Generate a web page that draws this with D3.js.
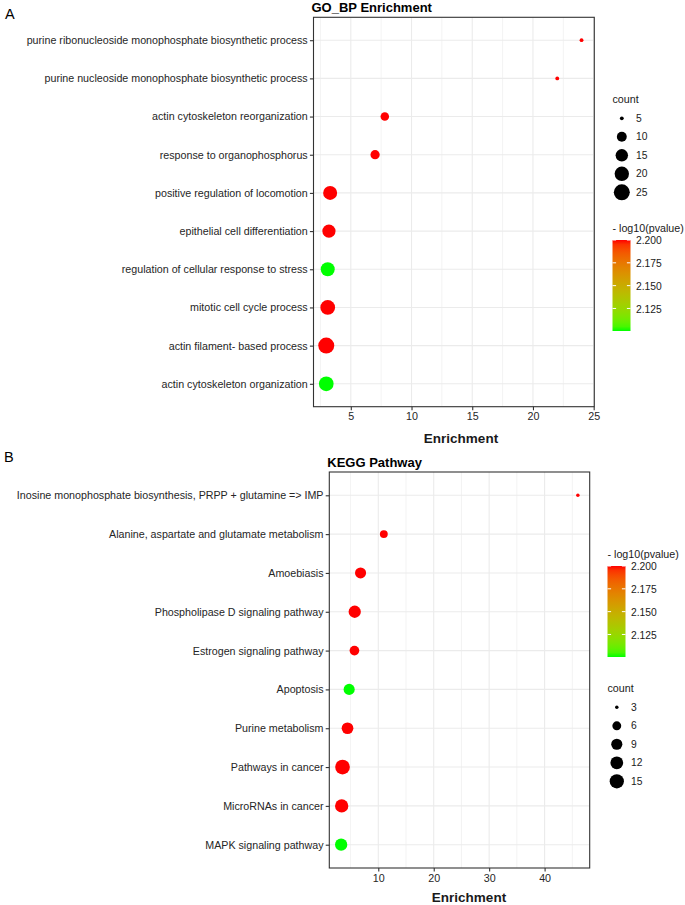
<!DOCTYPE html>
<html>
<head>
<meta charset="utf-8">
<script src="https://cdn.jsdelivr.net/npm/d3@7"></script>
<style>
  html, body { margin: 0; padding: 0; background: #fff; }
  svg { display: block; font-family: "Liberation Sans", Arial, Helvetica, sans-serif; }
</style>
</head>
<body>
<svg id="chart" width="685" height="905"></svg>
<script>
// ---------------- DATA ----------------
const goTerms = [
  "purine ribonucleoside monophosphate biosynthetic process",
  "purine nucleoside monophosphate biosynthetic process",
  "actin cytoskeleton reorganization",
  "response to organophosphorus",
  "positive regulation of locomotion",
  "epithelial cell differentiation",
  "regulation of cellular response to stress",
  "mitotic cell cycle process",
  "actin filament- based process",
  "actin cytoskeleton organization"
];
const goEnrichment = [24.0, 22.0, 7.8, 7.0, 3.3, 3.2, 3.1, 3.1, 2.98, 2.98];
const goCount = [5, 5, 8, 9, 19, 17, 19, 21, 25, 21];
const goLogP = [2.2, 2.2, 2.2, 2.2, 2.2, 2.2, 2.1003, 2.2, 2.2, 2.1003];
const goCountBreaks = [5, 10, 15, 20, 25];
const goXTicks = [5, 10, 15, 20, 25];

const keggTerms = [
  "Inosine monophosphate biosynthesis, PRPP + glutamine => IMP",
  "Alanine, aspartate and glutamate metabolism",
  "Amoebiasis",
  "Phospholipase D signaling pathway",
  "Estrogen signaling pathway",
  "Apoptosis",
  "Purine metabolism",
  "Pathways in cancer",
  "MicroRNAs in cancer",
  "MAPK signaling pathway"
];
const keggEnrichment = [46.0, 11.0, 6.8, 5.75, 5.7, 4.75, 4.45, 3.55, 3.4, 3.3];
const keggCount = [3, 5, 9, 11, 7, 9, 10, 16, 13, 11];
const keggLogP = [2.2, 2.2, 2.2, 2.2, 2.2, 2.1003, 2.2, 2.2, 2.2, 2.1003];
const keggCountBreaks = [3, 6, 9, 12, 15];
const keggXTicks = [10, 20, 30, 40];

const colorTicks = [2.125, 2.150, 2.175, 2.200];

// ---------------- DRAW ----------------
const svg = d3.select("#chart");
const FONT_AXIS = 10.7;
const TXT = "#262626";
const LOW = "#00ff00", HIGH = "#ff0000";
const interp = d3.interpolateLab(LOW, HIGH);

function drawPanel(o) {
  const g = svg.append("g");
  const [xmin, xmax] = d3.extent(o.enrich);
  const pad = 0.05 * (xmax - xmin);
  const x = d3.scaleLinear().domain([xmin - pad, xmax + pad]).range([o.left, o.right]);
  const y = d3.scalePoint().domain(o.terms).range([o.top, o.bottom]).padding(0.6);
  const [cmin, cmax] = d3.extent(o.count);
  const tScale = d3.scaleLinear().domain([cmin, cmax]).range([0, 1]);
  const diam = c => o.dMin + o.dSpan * Math.sqrt(Math.max(0, tScale(c)));
  const col = d3.scaleLinear().domain([o.cLo, o.cHi]).range([0, 1]).clamp(true);
  const color = v => interp(col(v));

  g.append("rect").attr("x", o.left).attr("y", o.top)
    .attr("width", o.right - o.left).attr("height", o.bottom - o.top)
    .attr("fill", "#fff");

  // minor grid
  const step = o.xTicks[1] - o.xTicks[0];
  const minors = d3.range(Math.floor(x.domain()[0] / step) * step - step / 2, x.domain()[1], step)
    .filter(v => v > x.domain()[0] && v < x.domain()[1]);
  g.append("g").selectAll("line").data(minors).join("line")
    .attr("x1", d => x(d)).attr("x2", d => x(d))
    .attr("y1", o.top).attr("y2", o.bottom)
    .attr("stroke", "#ebebeb").attr("stroke-width", 0.6);
  g.append("g").selectAll("line").data(o.xTicks).join("line")
    .attr("x1", d => x(d)).attr("x2", d => x(d))
    .attr("y1", o.top).attr("y2", o.bottom)
    .attr("stroke", "#ebebeb").attr("stroke-width", 1.1);
  g.append("g").selectAll("line").data(o.terms).join("line")
    .attr("x1", o.left).attr("x2", o.right)
    .attr("y1", d => y(d)).attr("y2", d => y(d))
    .attr("stroke", "#ebebeb").attr("stroke-width", 1.1);

  // points
  const data = o.terms.map((t, i) => ({ term: t, e: o.enrich[i], c: o.count[i], p: o.logp[i] }));
  g.append("g").selectAll("circle").data(data).join("circle")
    .attr("cx", d => x(d.e)).attr("cy", d => y(d.term))
    .attr("r", d => diam(d.c) / 2)
    .attr("fill", d => color(d.p));

  g.append("rect").attr("x", o.left).attr("y", o.top)
    .attr("width", o.right - o.left).attr("height", o.bottom - o.top)
    .attr("fill", "none").attr("stroke", "#333333").attr("stroke-width", 1.1);

  // x axis
  const xAxis = d3.axisBottom(x).tickValues(o.xTicks).tickSize(3.6).tickPadding(2.5).tickFormat(d3.format("d"));
  const xa = g.append("g").attr("transform", `translate(0,${o.bottom})`).call(xAxis);
  xa.select(".domain").remove();
  xa.selectAll(".tick line").attr("stroke", "#333333").attr("stroke-width", 1.1);
  xa.selectAll(".tick text").attr("fill", TXT).attr("font-size", FONT_AXIS)
    .attr("font-family", "Liberation Sans, Arial, sans-serif");

  // y axis
  const yAxis = d3.axisLeft(y).tickSize(3.6).tickPadding(2.2);
  const ya = g.append("g").attr("transform", `translate(${o.left},0)`).call(yAxis);
  ya.select(".domain").remove();
  ya.selectAll(".tick line").attr("stroke", "#333333").attr("stroke-width", 1.1);
  ya.selectAll(".tick text").attr("fill", TXT).attr("font-size", FONT_AXIS)
    .attr("font-family", "Liberation Sans, Arial, sans-serif");

  // titles
  g.append("text").attr("x", o.left - 2).attr("y", o.top - 5.5)
    .attr("font-size", 13).attr("font-weight", "bold").attr("fill", "#000")
    .text(o.title);
  g.append("text").attr("x", o.xTitleX).attr("y", o.bottom + o.xTitleDy)
    .attr("text-anchor", "middle").attr("dy", "0.35em")
    .attr("font-size", 13.5).attr("font-weight", "bold").attr("fill", "#1a1a1a")
    .text("Enrichment");
  g.append("text").attr("x", o.tagX).attr("y", o.tagY)
    .attr("font-size", 14.5).attr("fill", "#000").text(o.tag);

  // legends
  const lx = o.legendX;
  function sizeLegend(top) {
    g.append("text").attr("x", lx).attr("y", top).attr("dy", "0.35em")
      .attr("font-size", 10.7).attr("fill", "#1a1a1a").text("count");
    const ly = d3.scalePoint().domain(o.countBreaks).range([top + 19, top + 19 + 18.5 * (o.countBreaks.length - 1)]);
    const lg = g.append("g").selectAll("g").data(o.countBreaks).join("g")
      .attr("transform", d => `translate(0,${ly(d)})`);
    lg.append("circle").attr("cx", lx + 9.3).attr("cy", 0).attr("r", d => diam(d) / 2).attr("fill", "#000");
    lg.append("text").attr("x", lx + 23.5).attr("y", 0).attr("dy", "0.35em")
      .attr("font-size", 10.3).attr("fill", "#1a1a1a").text(d => d);
  }
  function colorLegend(top) {
    g.append("text").attr("x", lx).attr("y", top - 1).attr("dy", "0.3em")
      .attr("font-size", 10.7).attr("fill", "#1a1a1a").text("- log10(pvalue)");
    const barTop = top + 10, barBot = barTop + 91, bw = 18;
    const gid = "grad" + o.tag;
    const grad = svg.append("defs").append("linearGradient").attr("id", gid)
      .attr("x1", 0).attr("y1", 1).attr("x2", 0).attr("y2", 0);
    d3.range(0, 1.0001, 0.05).forEach(t => {
      grad.append("stop").attr("offset", t).attr("stop-color", interp(t));
    });
    g.append("rect").attr("x", lx).attr("y", barTop).attr("width", bw).attr("height", barBot - barTop)
      .attr("fill", `url(#${gid})`);
    const cy = d3.scaleLinear().domain([o.cLo, o.cHi]).range([barBot, barTop]);
    const tk = g.append("g").selectAll("g").data(colorTicks).join("g")
      .attr("transform", d => `translate(0,${cy(d)})`);
    tk.append("line").attr("x1", lx).attr("x2", lx + 3.6).attr("stroke", "#fff").attr("stroke-width", 1);
    tk.append("line").attr("x1", lx + bw - 3.6).attr("x2", lx + bw).attr("stroke", "#fff").attr("stroke-width", 1);
    tk.append("text").attr("x", lx + bw + 5.5).attr("dy", "0.4em")
      .attr("font-size", 10.3).attr("fill", "#1a1a1a").text(d => d3.format(".3f")(d));
  }
  if (o.sizeFirst) { sizeLegend(o.legTop1); colorLegend(o.legTop2); }
  else { colorLegend(o.legTop1); sizeLegend(o.legTop2); }
}

drawPanel({
  tag: "A", tagX: 5, tagY: 18.5,
  title: "GO_BP Enrichment",
  terms: goTerms, enrich: goEnrichment, count: goCount, logp: goLogP,
  countBreaks: goCountBreaks, xTicks: goXTicks,
  left: 313.5, right: 594.3, top: 17.3, bottom: 406.7,
  xTitleX: 461, xTitleDy: 31.6,
  dMin: 3.8, dSpan: 12.2, cLo: 2.1003, cHi: 2.2,
  legendX: 612.5, sizeFirst: true, legTop1: 99.3, legTop2: 230
});

drawPanel({
  tag: "B", tagX: 4, tagY: 461.5,
  title: "KEGG Pathway",
  terms: keggTerms, enrich: keggEnrichment, count: keggCount, logp: keggLogP,
  countBreaks: keggCountBreaks, xTicks: keggXTicks,
  left: 329.3, right: 589.7, top: 472, bottom: 868,
  xTitleX: 469, xTitleDy: 29.3,
  dMin: 3.5, dSpan: 11.2, cLo: 2.1003, cHi: 2.2,
  legendX: 607.5, sizeFirst: false, legTop1: 556, legTop2: 688.3
});
</script>
</body>
</html>
